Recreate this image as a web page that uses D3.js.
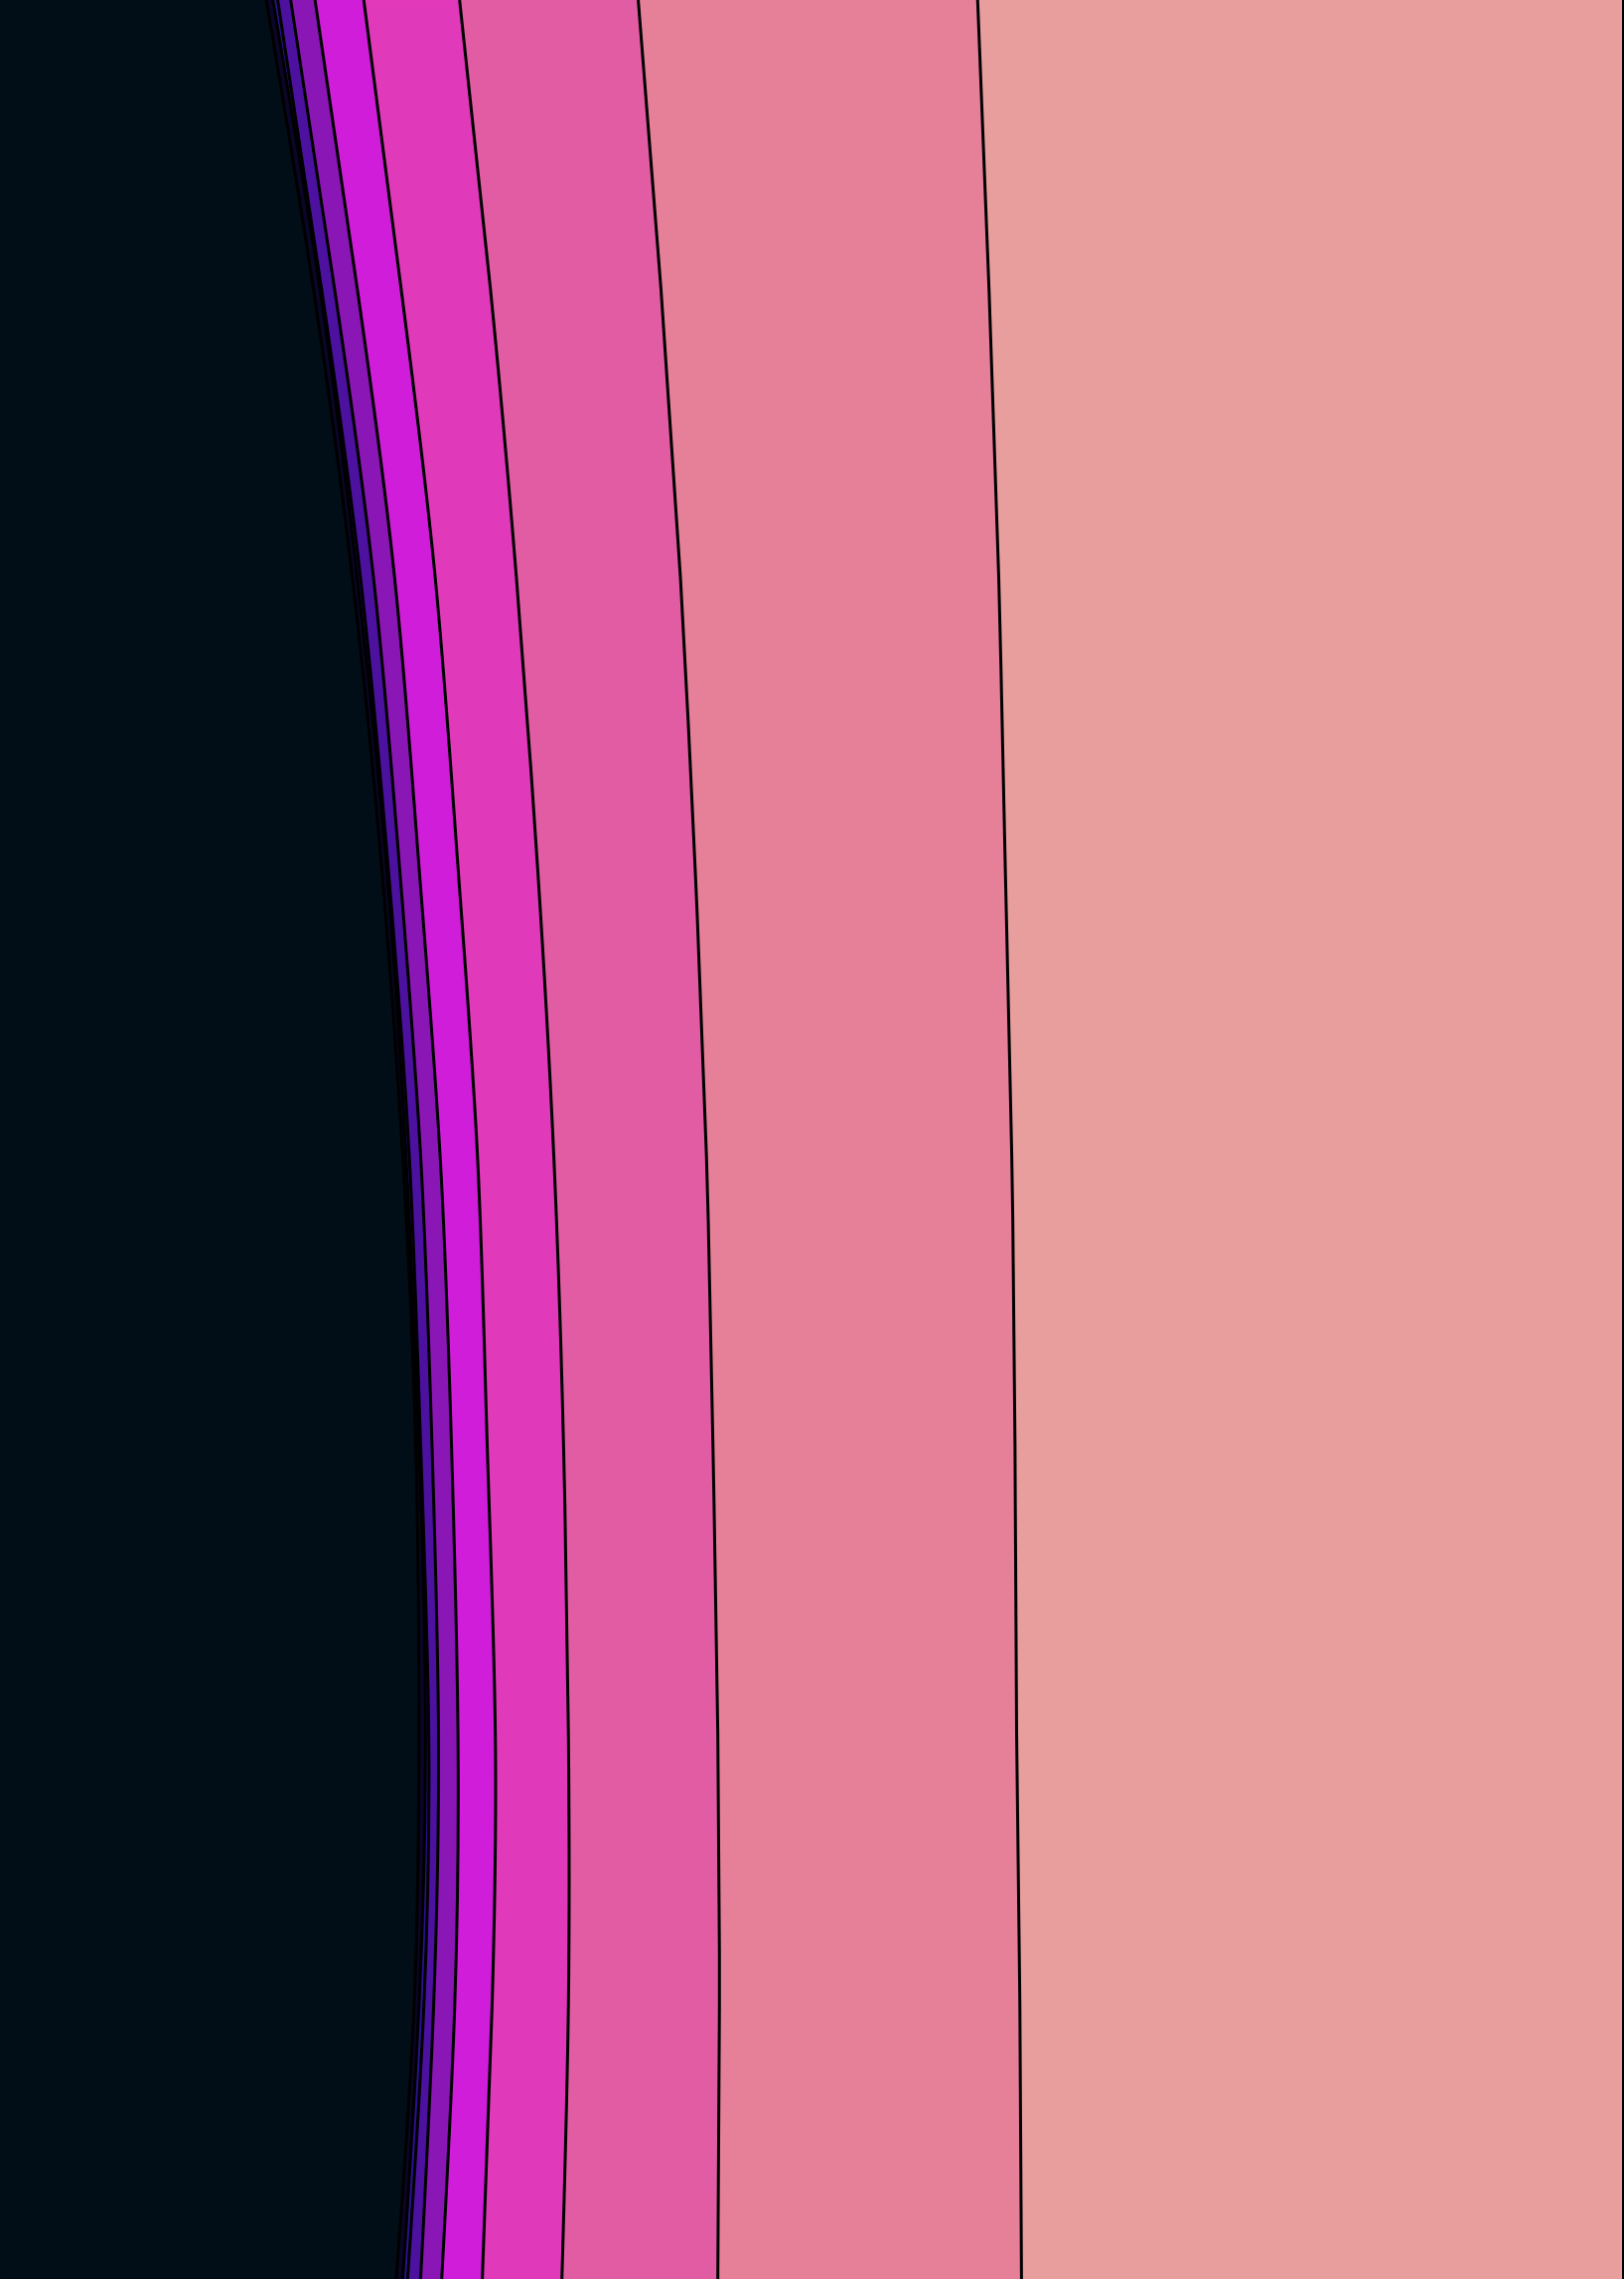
<!DOCTYPE html>
<html>
<head>
<meta charset="utf-8">
<script src="https://cdn.jsdelivr.net/npm/d3@7"></script>
<style>
  html, body { margin: 0; padding: 0; background: #ffffff; }
  svg { display: block; }
</style>
</head>
<body>
<svg id="chart" width="1635" height="2294"></svg>
<script>
// Vertical sample positions (data units, top to bottom)
const yLevels = [0, 1.8, 3.6, 5.4, 7.2, 9.0, 10.8, 12.5, 14.2];

// Contour boundaries: x position (data units) at each y level, left to right
const contour1 = [1.64, 1.93, 2.17, 2.35, 2.48, 2.56, 2.58, 2.55, 2.44];
const contour2 = [1.68, 1.97, 2.20, 2.38, 2.50, 2.58, 2.62, 2.58, 2.48];
const contour3 = [1.71, 1.98, 2.22, 2.39, 2.52, 2.59, 2.64, 2.61, 2.51];
const contour4 = [1.79, 2.06, 2.30, 2.46, 2.59, 2.66, 2.70, 2.67, 2.59];
const contour5 = [1.94, 2.20, 2.43, 2.58, 2.71, 2.78, 2.82, 2.80, 2.72];
const contour6 = [2.24, 2.47, 2.68, 2.82, 2.94, 3.00, 3.05, 3.03, 2.97];
const contour7 = [2.83, 3.02, 3.18, 3.31, 3.41, 3.47, 3.50, 3.50, 3.46];
const contour8 = [3.93, 4.07, 4.19, 4.28, 4.35, 4.39, 4.42, 4.43, 4.42];
const contour9 = [6.02, 6.09, 6.15, 6.19, 6.23, 6.25, 6.26, 6.28, 6.29];

// Fill colours of the bands, left to right
const bandColors = ["#010e17", "#0a0628", "#2c1190", "#4d11a0", "#8a17b5",
                    "#cf1dd9", "#e039b9", "#e25ca3", "#e67f98", "#e99e9e"];

const W = 1635, H = 2294;
const xDomain = [0, 10];
const yDomain = [0, 14.2];

const svg = d3.select("#chart");
const x = d3.scaleLinear().domain(xDomain).range([0, W]);
const y = d3.scaleLinear().domain(yDomain).range([0, H]);

const boundaries = [contour1, contour2, contour3, contour4, contour5,
                    contour6, contour7, contour8, contour9];

const leftEdge = yLevels.map(() => xDomain[0]);
const rightEdge = yLevels.map(() => xDomain[1]);
const edges = [leftEdge, ...boundaries, rightEdge];

const curve = d3.curveNatural;

// bands
const area = d3.area()
  .y(d => y(d.y))
  .x0(d => x(d.a))
  .x1(d => x(d.b))
  .curve(curve);

for (let i = 0; i < edges.length - 1; i++) {
  const pts = yLevels.map((yy, k) => ({ y: yy, a: edges[i][k], b: edges[i + 1][k] }));
  svg.append("path")
    .attr("d", area(pts))
    .attr("fill", bandColors[i])
    .attr("stroke", bandColors[i])
    .attr("stroke-width", 0.5);
}

// contour lines
const line = d3.line()
  .y(d => y(d.y))
  .x(d => x(d.v))
  .curve(curve);

boundaries.forEach(b => {
  const pts = yLevels.map((yy, k) => ({ y: yy, v: b[k] }));
  svg.append("path")
    .attr("d", line(pts))
    .attr("fill", "none")
    .attr("stroke", "#000000")
    .attr("stroke-width", 3);
});

// right frame edge
svg.append("line")
  .attr("x1", x(xDomain[1]) - 1).attr("x2", x(xDomain[1]) - 1)
  .attr("y1", y(yDomain[0])).attr("y2", y(yDomain[1]))
  .attr("stroke", "#000000")
  .attr("stroke-width", 2);
</script>
</body>
</html>
